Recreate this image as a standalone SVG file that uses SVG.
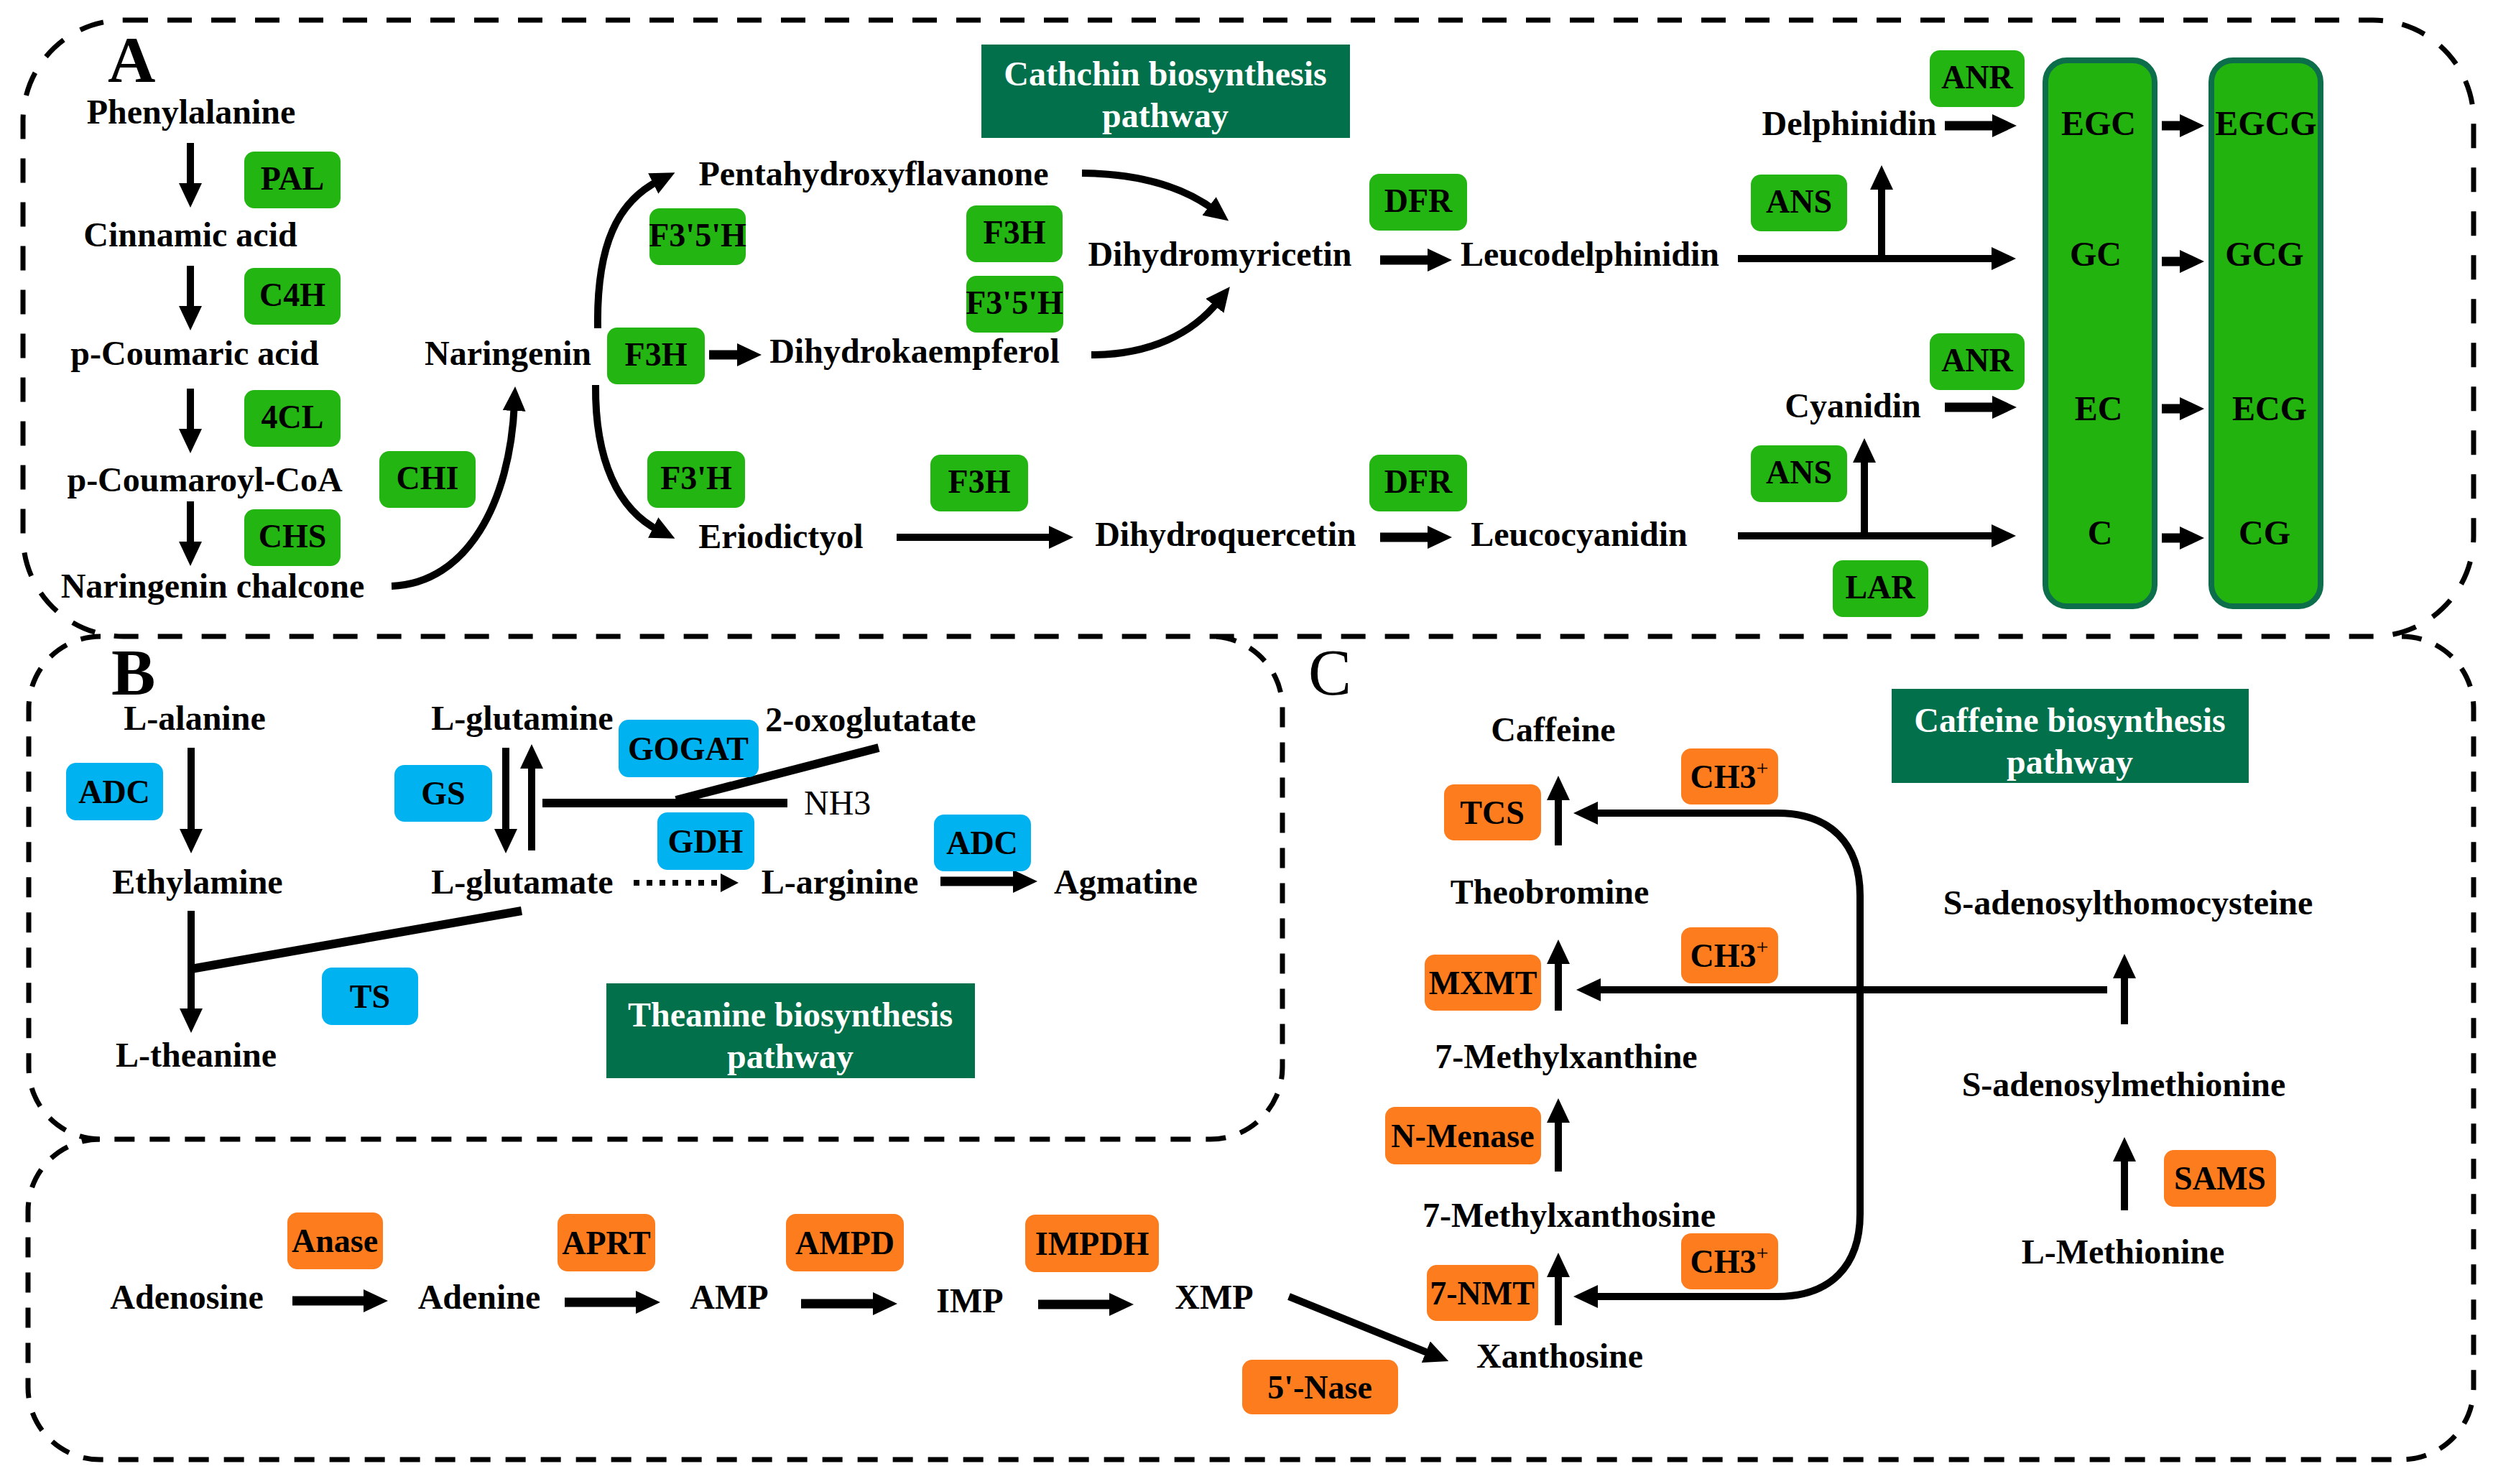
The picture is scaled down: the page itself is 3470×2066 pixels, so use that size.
<svg xmlns="http://www.w3.org/2000/svg" width="3470" height="2066" viewBox="0 0 3470 2066">
<defs>
<style>
.t{font-family:"Liberation Serif","Times New Roman",serif;font-weight:bold;font-size:48px;fill:#000;text-anchor:middle}
.e{font-size:46px}
.w{fill:#fff}
.g{fill:#23b512}
.b{fill:#00b2f0}
.o{fill:#fc7c1e}
.ttl{fill:#02704a}
.col{fill:#22b30e;stroke:#0d6e4c;stroke-width:8}
.ar{stroke:#000;stroke-width:10;fill:none;marker-end:url(#ah)}
.tk{stroke-width:13}
.ln{stroke:#000;stroke-width:12;fill:none}
.pa{fill:none;stroke:#000;stroke-width:7;stroke-dasharray:34 27}
.pb{fill:none;stroke:#000;stroke-width:7;stroke-dasharray:28 21}
</style>
<marker id="ah" markerUnits="userSpaceOnUse" markerWidth="40" markerHeight="40" refX="10" refY="16" orient="auto-start-reverse">
<path d="M0,0 L34,16 L0,32 Z" fill="#000"/>
</marker>
</defs>
<rect width="3470" height="2066" fill="#fff"/>

<g id="panels">
<rect id="panelA" class="pa" x="32" y="28" width="3411" height="858" rx="140" ry="140"/>
<path id="panelB" class="pb" d="M140,886 A100,100 0 0 0 40,986 L40,1486 A100,100 0 0 0 140,1586 L1685,1586 A100,100 0 0 0 1785,1486 L1785,986 A100,100 0 0 0 1685,886"/>
<path id="panelC" class="pb" d="M3343,886 A100,100 0 0 1 3443,986 L3443,1932 A100,100 0 0 1 3343,2032 L139,2032 A100,100 0 0 1 39,1932 L39,1686 A100,100 0 0 1 139,1586"/>
<text class="t" x="150" y="114" style="font-size:92px;text-anchor:start">A</text>
<text class="t" x="155" y="967" style="font-size:92px;text-anchor:start">B</text>
<text class="t" x="1821" y="967" style="font-size:90px;text-anchor:start;font-weight:normal">C</text>
</g>

<g id="titles">
<g id="title-catechin"><rect class="ttl" x="1366" y="62" width="513" height="130"/><text class="t w" x="1622" y="119">Cathchin biosynthesis</text><text class="t w" x="1622" y="177">pathway</text></g>
<g id="title-theanine"><rect class="ttl" x="844" y="1369" width="513" height="132"/><text class="t w" x="1100" y="1429">Theanine biosynthesis</text><text class="t w" x="1100" y="1487">pathway</text></g>
<g id="title-caffeine"><rect class="ttl" x="2633" y="959" width="497" height="131"/><text class="t w" x="2881" y="1019">Caffeine biosynthesis</text><text class="t w" x="2881" y="1077">pathway</text></g>
</g>

<g id="connectors">
<!-- Panel A -->
<line class="ar" x1="265" y1="199" x2="265" y2="265"/>
<line class="ar" x1="265" y1="370" x2="265" y2="436"/>
<line class="ar" x1="265" y1="541" x2="265" y2="607"/>
<line class="ar" x1="265" y1="698" x2="265" y2="764"/>
<path class="ar" d="M545,816 C650,812 710,700 716,562"/>
<path class="ar" d="M832,457 C830,340 860,280 918,251"/>
<path class="ar" d="M829,536 C828,640 860,710 918,739"/>
<line class="ar tk" x1="987" y1="494" x2="1036" y2="494"/>
<path class="ar" d="M1506,241 C1590,242 1650,262 1691,293"/>
<path class="ar" d="M1519,494 C1600,494 1660,465 1697,418"/>
<line class="ar tk" x1="1921" y1="362" x2="1997" y2="362"/>
<line class="ar" x1="1248" y1="748" x2="1470" y2="748"/>
<line class="ar tk" x1="1921" y1="748" x2="1997" y2="748"/>
<line class="ar tk" x1="2707" y1="175" x2="2783" y2="175"/>
<line class="ar" x1="2419" y1="360" x2="2782" y2="360"/>
<line class="ar" x1="2619" y1="360" x2="2619" y2="254"/>
<line class="ar tk" x1="2707" y1="567" x2="2783" y2="567"/>
<line class="ar" x1="2419" y1="746" x2="2782" y2="746"/>
<line class="ar" x1="2595" y1="746" x2="2595" y2="634"/>
<line class="ar tk" x1="3009" y1="175" x2="3044" y2="175"/>
<line class="ar tk" x1="3009" y1="364" x2="3044" y2="364"/>
<line class="ar tk" x1="3009" y1="569" x2="3044" y2="569"/>
<line class="ar tk" x1="3009" y1="749" x2="3044" y2="749"/>
<!-- Panel B -->
<line class="ar" x1="266" y1="1041" x2="266" y2="1164"/>
<line class="ar" x1="266" y1="1268" x2="266" y2="1414"/>
<line class="ln" x1="266" y1="1349" x2="726" y2="1268"/>
<line class="ar" x1="704" y1="1041" x2="704" y2="1164"/>
<line class="ar" x1="740" y1="1184" x2="740" y2="1060"/>
<line class="ln" x1="755" y1="1118" x2="1096" y2="1118"/>
<line class="ln" x1="941" y1="1114" x2="1223" y2="1041"/>
<line x1="882" y1="1229" x2="1000" y2="1229" stroke="#000" stroke-width="8" stroke-dasharray="8 10"/>
<polygon points="1003,1216 1028,1229 1003,1242" fill="#000"/>
<line class="ar tk" x1="1309" y1="1227" x2="1420" y2="1227"/>
<!-- Panel C -->
<line class="ar" x1="2169" y1="1177" x2="2169" y2="1104"/>
<line class="ar" x1="2169" y1="1407" x2="2169" y2="1332"/>
<line class="ar" x1="2169" y1="1631" x2="2169" y2="1553"/>
<line class="ar" x1="2169" y1="1845" x2="2169" y2="1768"/>
<line class="ar" x1="2957" y1="1685" x2="2957" y2="1607"/>
<line class="ar" x1="2957" y1="1426" x2="2957" y2="1352"/>
<line class="ar" x1="2933" y1="1378" x2="2218" y2="1378"/>
<path class="ar" style="marker-start:url(#ah)" d="M2214,1132 L2474,1132 C2548,1132 2589,1175 2589,1247 L2589,1690 C2589,1762 2548,1805 2474,1805 L2214,1805"/>
<line class="ar" x1="1794" y1="1805" x2="1994" y2="1886"/>
<line class="ar tk" x1="407" y1="1811" x2="516" y2="1811"/>
<line class="ar tk" x1="786" y1="1813" x2="895" y2="1813"/>
<line class="ar tk" x1="1115" y1="1815" x2="1225" y2="1815"/>
<line class="ar tk" x1="1445" y1="1816" x2="1554" y2="1816"/>
</g>

<g id="nodes">
<!-- Panel A metabolites -->
<g id="n-phe"><text class="t" x="266" y="172">Phenylalanine</text></g>
<g id="n-cin"><text class="t" x="265" y="343">Cinnamic acid</text></g>
<g id="n-pca"><text class="t" x="271" y="508">p-Coumaric acid</text></g>
<g id="n-pcoa"><text class="t" x="285" y="684">p-Coumaroyl-CoA</text></g>
<g id="n-nch"><text class="t" x="296" y="832">Naringenin chalcone</text></g>
<g id="n-nar"><text class="t" x="707" y="508">Naringenin</text></g>
<g id="n-pent"><text class="t" x="1216" y="258">Pentahydroxyflavanone</text></g>
<g id="n-dhk"><text class="t" x="1273" y="505">Dihydrokaempferol</text></g>
<g id="n-eri"><text class="t" x="1087" y="763">Eriodictyol</text></g>
<g id="n-dhm"><text class="t" x="1698" y="370">Dihydromyricetin</text></g>
<g id="n-ldp"><text class="t" x="2213" y="370">Leucodelphinidin</text></g>
<g id="n-dhq"><text class="t" x="1706" y="760">Dihydroquercetin</text></g>
<g id="n-lcy"><text class="t" x="2198" y="760">Leucocyanidin</text></g>
<g id="n-del"><text class="t" x="2574" y="188">Delphinidin</text></g>
<g id="n-cya"><text class="t" x="2579" y="581">Cyanidin</text></g>
<g id="col1"><rect class="col" x="2847" y="84" width="152" height="760" rx="30"/>
<text class="t" x="2921" y="188">EGC</text><text class="t" x="2917" y="370">GC</text><text class="t" x="2921" y="585">EC</text><text class="t" x="2923" y="758">C</text></g>
<g id="col2"><rect class="col" x="3078" y="84" width="152" height="760" rx="30"/>
<text class="t" x="3154" y="188">EGCG</text><text class="t" x="3152" y="370">GCG</text><text class="t" x="3159" y="585">ECG</text><text class="t" x="3152" y="758">CG</text></g>
<!-- Panel A enzymes -->
<g id="e-pal"><rect class="g" x="340" y="211" width="134" height="79" rx="14"/><text class="t e" x="407" y="264">PAL</text></g>
<g id="e-c4h"><rect class="g" x="340" y="373" width="134" height="79" rx="14"/><text class="t e" x="407" y="426">C4H</text></g>
<g id="e-4cl"><rect class="g" x="340" y="543" width="134" height="79" rx="14"/><text class="t e" x="407" y="596">4CL</text></g>
<g id="e-chs"><rect class="g" x="340" y="709" width="134" height="79" rx="14"/><text class="t e" x="407" y="762">CHS</text></g>
<g id="e-chi"><rect class="g" x="528" y="628" width="134" height="79" rx="14"/><text class="t e" x="595" y="681">CHI</text></g>
<g id="e-f35h1"><rect class="g" x="904" y="290" width="134" height="79" rx="14"/><text class="t e" x="971" y="343">F3'5'H</text></g>
<g id="e-f3h1"><rect class="g" x="845" y="456" width="136" height="79" rx="14"/><text class="t e" x="913" y="509">F3H</text></g>
<g id="e-f3ph"><rect class="g" x="901" y="628" width="136" height="79" rx="14"/><text class="t e" x="969" y="681">F3'H</text></g>
<g id="e-f3h2"><rect class="g" x="1345" y="286" width="134" height="79" rx="14"/><text class="t e" x="1412" y="339">F3H</text></g>
<g id="e-f35h2"><rect class="g" x="1345" y="384" width="135" height="79" rx="14"/><text class="t e" x="1412" y="437">F3'5'H</text></g>
<g id="e-f3h3"><rect class="g" x="1295" y="633" width="136" height="79" rx="14"/><text class="t e" x="1363" y="686">F3H</text></g>
<g id="e-dfr1"><rect class="g" x="1906" y="242" width="136" height="79" rx="14"/><text class="t e" x="1974" y="295">DFR</text></g>
<g id="e-dfr2"><rect class="g" x="1906" y="633" width="136" height="79" rx="14"/><text class="t e" x="1974" y="686">DFR</text></g>
<g id="e-anr1"><rect class="g" x="2686" y="70" width="132" height="79" rx="14"/><text class="t e" x="2752" y="123">ANR</text></g>
<g id="e-ans1"><rect class="g" x="2437" y="243" width="134" height="79" rx="14"/><text class="t e" x="2504" y="296">ANS</text></g>
<g id="e-anr2"><rect class="g" x="2686" y="464" width="132" height="79" rx="14"/><text class="t e" x="2752" y="517">ANR</text></g>
<g id="e-ans2"><rect class="g" x="2437" y="620" width="134" height="79" rx="14"/><text class="t e" x="2504" y="673">ANS</text></g>
<g id="e-lar"><rect class="g" x="2551" y="780" width="133" height="79" rx="14"/><text class="t e" x="2617" y="833">LAR</text></g>
<!-- Panel B -->
<g id="n-ala"><text class="t" x="271" y="1016">L-alanine</text></g>
<g id="n-eth"><text class="t" x="275" y="1244">Ethylamine</text></g>
<g id="n-the"><text class="t" x="273" y="1485">L-theanine</text></g>
<g id="n-gln"><text class="t" x="727" y="1016">L-glutamine</text></g>
<g id="n-glu"><text class="t" x="727" y="1244">L-glutamate</text></g>
<g id="n-oxo"><text class="t" x="1212" y="1018">2-oxoglutatate</text></g>
<g id="n-nh3"><text class="t" x="1119" y="1134" style="text-anchor:start;font-weight:normal">NH3</text></g>
<g id="n-arg"><text class="t" x="1169" y="1244">L-arginine</text></g>
<g id="n-agm"><text class="t" x="1567" y="1244">Agmatine</text></g>
<g id="e-adc1"><rect class="b" x="92" y="1062" width="135" height="80" rx="14"/><text class="t e" x="159" y="1118">ADC</text></g>
<g id="e-gs"><rect class="b" x="549" y="1065" width="136" height="79" rx="14"/><text class="t e" x="617" y="1120">GS</text></g>
<g id="e-gogat"><rect class="b" x="861" y="1002" width="195" height="80" rx="14"/><text class="t e" x="958" y="1058">GOGAT</text></g>
<g id="e-gdh"><rect class="b" x="915" y="1131" width="135" height="80" rx="14"/><text class="t e" x="982" y="1187">GDH</text></g>
<g id="e-adc2"><rect class="b" x="1300" y="1134" width="135" height="79" rx="14"/><text class="t e" x="1367" y="1189">ADC</text></g>
<g id="e-ts"><rect class="b" x="448" y="1347" width="134" height="80" rx="14"/><text class="t e" x="515" y="1403">TS</text></g>
<!-- Panel C -->
<g id="n-caf"><text class="t" x="2162" y="1032">Caffeine</text></g>
<g id="n-tbr"><text class="t" x="2157" y="1258">Theobromine</text></g>
<g id="n-7mx"><text class="t" x="2180" y="1487">7-Methylxanthine</text></g>
<g id="n-7mxs"><text class="t" x="2184" y="1708">7-Methylxanthosine</text></g>
<g id="n-xan"><text class="t" x="2171" y="1904">Xanthosine</text></g>
<g id="n-sah"><text class="t" x="2962" y="1273">S-adenosylthomocysteine</text></g>
<g id="n-sam"><text class="t" x="2956" y="1526">S-adenosylmethionine</text></g>
<g id="n-met"><text class="t" x="2955" y="1759">L-Methionine</text></g>
<g id="n-ado"><text class="t" x="260" y="1822">Adenosine</text></g>
<g id="n-ade"><text class="t" x="667" y="1822">Adenine</text></g>
<g id="n-amp"><text class="t" x="1015" y="1822">AMP</text></g>
<g id="n-imp"><text class="t" x="1350" y="1827">IMP</text></g>
<g id="n-xmp"><text class="t" x="1690" y="1822">XMP</text></g>
<g id="e-tcs"><rect class="o" x="2010" y="1092" width="135" height="78" rx="14"/><text class="t e" x="2077" y="1147">TCS</text></g>
<g id="e-mxmt"><rect class="o" x="1983" y="1329" width="162" height="78" rx="14"/><text class="t e" x="2064" y="1384">MXMT</text></g>
<g id="e-nmen"><rect class="o" x="1928" y="1541" width="217" height="80" rx="14"/><text class="t e" x="2036" y="1597">N-Menase</text></g>
<g id="e-7nmt"><rect class="o" x="1986" y="1761" width="155" height="78" rx="14"/><text class="t e" x="2063" y="1816">7-NMT</text></g>
<g id="e-ch3a"><rect class="o" x="2340" y="1042" width="135" height="78" rx="14"/><text class="t e" x="2407" y="1097">CH3<tspan font-size="30" font-weight="normal" dy="-18">+</tspan></text></g>
<g id="e-ch3b"><rect class="o" x="2340" y="1291" width="135" height="78" rx="14"/><text class="t e" x="2407" y="1346">CH3<tspan font-size="30" font-weight="normal" dy="-18">+</tspan></text></g>
<g id="e-ch3c"><rect class="o" x="2340" y="1717" width="135" height="78" rx="14"/><text class="t e" x="2407" y="1772">CH3<tspan font-size="30" font-weight="normal" dy="-18">+</tspan></text></g>
<g id="e-sams"><rect class="o" x="3012" y="1601" width="156" height="79" rx="14"/><text class="t e" x="3090" y="1656">SAMS</text></g>
<g id="e-5nase"><rect class="o" x="1729" y="1893" width="217" height="76" rx="14"/><text class="t e" x="1837" y="1947">5'-Nase</text></g>
<g id="e-anase"><rect class="o" x="400" y="1688" width="133" height="79" rx="14"/><text class="t e" x="466" y="1743">Anase</text></g>
<g id="e-aprt"><rect class="o" x="776" y="1690" width="136" height="80" rx="14"/><text class="t e" x="844" y="1746">APRT</text></g>
<g id="e-ampd"><rect class="o" x="1094" y="1690" width="164" height="80" rx="14"/><text class="t e" x="1176" y="1746">AMPD</text></g>
<g id="e-impdh"><rect class="o" x="1427" y="1691" width="186" height="80" rx="14"/><text class="t e" x="1520" y="1747">IMPDH</text></g>
</g>
</svg>
